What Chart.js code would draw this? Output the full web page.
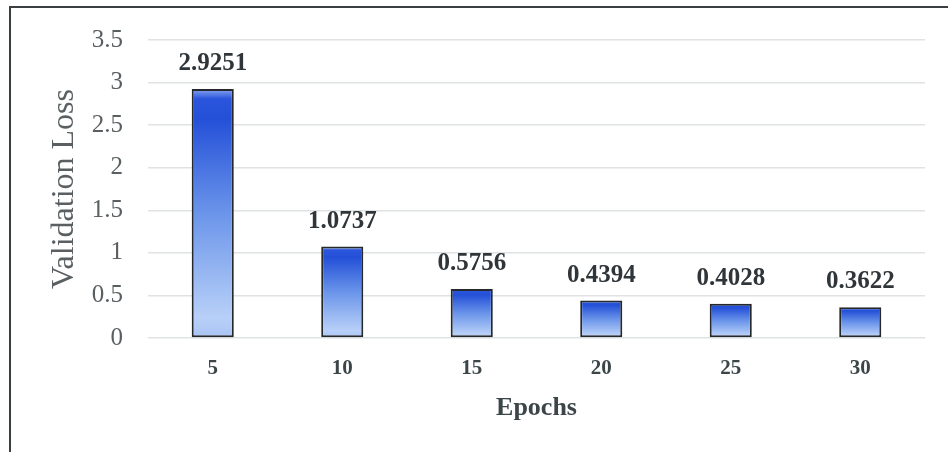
<!DOCTYPE html>
<html>
<head>
<meta charset="utf-8">
<script src="https://cdn.jsdelivr.net/npm/chart.js@4/dist/chart.umd.min.js"></script>
<style>
  html, body { margin: 0; padding: 0; background: #ffffff; }
  #wrap { position: relative; width: 948px; height: 452px; overflow: hidden; }
  #frame { position: absolute; left: 9px; top: 6px; width: 960px; height: 460px;
           border-top: 2px solid #3a3f42; border-left: 2px solid #3a3f42; box-sizing: border-box; }
  canvas { position: absolute; left: 0; top: 0; }
</style>
</head>
<body>
<div id="wrap">
  <div id="frame"></div>
  <canvas id="chart" width="948" height="452"></canvas>
</div>
<script>
// Validation loss after each block of training epochs
const epochs = ["5", "10", "15", "20", "25", "30"];
const validationLoss = [2.9251, 1.0737, 0.5756, 0.4394, 0.4028, 0.3622];
const yTicks = { min: 0, max: 3.5, step: 0.5 };

const SERIF = "'Liberation Serif', 'Times New Roman', serif";

// Vertical gradient for each bar, from its top to its base
function barGradient(context) {
  const chart = context.chart;
  const { ctx, chartArea, scales } = chart;
  if (!chartArea || !scales.y) return '#4a78e0';
  const v = context.raw;
  const top = scales.y.getPixelForValue(v);
  const bottom = scales.y.getPixelForValue(0);
  const g = ctx.createLinearGradient(0, top, 0, bottom);
  g.addColorStop(0.0, '#8aa6ee');
  g.addColorStop(0.04, '#2a55dc');
  g.addColorStop(0.12, '#2450d8');
  g.addColorStop(0.5, '#6b95ea');
  g.addColorStop(0.92, '#b8d0f8');
  g.addColorStop(1.0, '#a9c4f4');
  return g;
}

// Bold value written above each bar
const valueLabels = {
  id: 'valueLabels',
  afterDatasetsDraw(chart) {
    const { ctx } = chart;
    const meta = chart.getDatasetMeta(0);
    const data = chart.data.datasets[0].data;
    ctx.save();
    ctx.font = "bold 25px " + SERIF;
    ctx.fillStyle = '#2f3538';
    ctx.textAlign = 'center';
    ctx.textBaseline = 'alphabetic';
    meta.data.forEach((bar, i) => {
      ctx.fillText(data[i].toFixed(4), bar.x, bar.y - 19);
    });
    ctx.restore();
  }
};

new Chart(document.getElementById('chart'), {
  type: 'bar',
  data: {
    labels: epochs,
    datasets: [{
      label: 'Validation Loss',
      data: validationLoss,
      backgroundColor: barGradient,
      borderColor: '#26292b',
      borderWidth: 2,
      borderSkipped: false,
      categoryPercentage: 1.0,
      barPercentage: 0.325
    }]
  },
  options: {
    responsive: false,
    animation: false,
    devicePixelRatio: 1,
    layout: { padding: { left: 0, right: 23, top: 36, bottom: 0 } },
    plugins: { legend: { display: false }, tooltip: { enabled: false } },
    scales: {
      x: {
        grid: { display: false, drawTicks: false },
        border: { display: false },
        ticks: {
          color: '#3c4649',
          font: { family: SERIF, size: 21, weight: 'bold' },
          padding: 18
        },
        title: {
          display: true,
          text: 'Epochs',
          color: '#3c4649',
          font: { family: SERIF, size: 26, weight: 'bold' },
          padding: { top: 0, bottom: 28 }
        },
        afterFit(scale) { scale.height = 114; }
      },
      y: {
        min: yTicks.min,
        max: yTicks.max,
        grid: { color: '#dfe3e3', lineWidth: 1.5, drawTicks: false },
        border: { display: false },
        ticks: {
          stepSize: yTicks.step,
          color: '#5a5f62',
          font: { family: SERIF, size: 25 },
          padding: 25,
          callback: (value) => String(value)
        },
        title: {
          display: true,
          text: 'Validation Loss',
          color: '#5a5f62',
          font: { family: SERIF, size: 32 },
          padding: { top: 45, bottom: 0 }
        },
        afterFit(scale) { scale.width = 148; }
      }
    }
  },
  plugins: [valueLabels]
});
</script>
</body>
</html>
